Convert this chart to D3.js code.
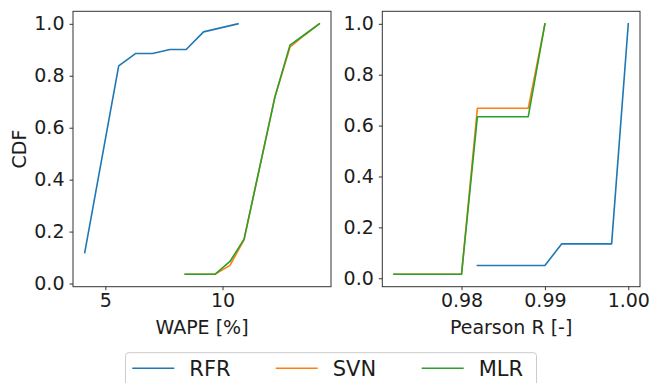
<!DOCTYPE html>
<html>
<head>
<meta charset="utf-8">
<script src="https://cdn.jsdelivr.net/npm/d3@7"></script>
<style>
  html, body { margin: 0; padding: 0; background: #fff; }
  svg { display: block; font-family: "DejaVu Sans", sans-serif; }
</style>
</head>
<body>
<svg id="chart" width="649" height="383"></svg>
<script>
// Series names and colours
const seriesNames = ["RFR", "SVN", "MLR"];
const seriesColors = ["#1f77b4", "#ff7f0e", "#2ca02c"];

// WAPE [%] CDF curves
const wapeRFRx = [4.12, 5.57, 6.30, 7.01, 7.76, 8.45, 9.19, 10.66];
const wapeRFRy = [0.119, 0.838, 0.886, 0.886, 0.901, 0.901, 0.969, 1.0];
const wapeSVNx = [8.41, 9.69, 10.32, 10.92, 12.22, 12.88, 13.48, 14.13];
const wapeSVNy = [0.036, 0.036, 0.070, 0.168, 0.713, 0.910, 0.955, 1.0];
const wapeMLRx = [8.41, 9.69, 10.32, 10.92, 12.24, 12.88, 13.48, 14.13];
const wapeMLRy = [0.036, 0.036, 0.085, 0.171, 0.719, 0.918, 0.957, 1.0];

// Pearson R CDF curves
const pearRFRx = [0.9819, 0.9900, 0.9920, 0.9980, 1.0000];
const pearRFRy = [0.050, 0.050, 0.135, 0.135, 1.0];
const pearSVNx = [0.9719, 0.9800, 0.9819, 0.9880, 0.9900];
const pearSVNy = [0.016, 0.016, 0.668, 0.668, 1.0];
const pearMLRx = [0.9719, 0.9800, 0.9819, 0.9880, 0.9900];
const pearMLRy = [0.016, 0.016, 0.635, 0.635, 1.0];

// Tick values
const wapeTicks = [5, 10];
const pearTicks = [0.98, 0.99, 1.00];
const cdfTicks = [0.0, 0.2, 0.4, 0.6, 0.8, 1.0];

const svg = d3.select("#chart");
const textColor = "#1c1c1c";
const spineColor = "#333";

function zipXY(xs, ys) { return xs.map((x, i) => [x, ys[i]]); }

// Extent with 5% padding on each side
function padded(values) {
  const [lo, hi] = d3.extent(values);
  const m = (hi - lo) * 0.05;
  return [lo - m, hi + m];
}

function panel(opts) {
  const { left, right, top, bottom, series, xTicks, xFormat, xLabel, yLabel } = opts;
  const allX = series.flatMap(s => s.x);
  const allY = series.flatMap(s => s.y);
  const x = d3.scaleLinear().domain(padded(allX)).range([left, right]);
  const y = d3.scaleLinear().domain(padded(allY)).range([bottom, top]);
  const g = svg.append("g");

  const line = d3.line().x(d => x(d[0])).y(d => y(d[1]));
  series.forEach((s, i) => {
    g.append("path")
      .datum(zipXY(s.x, s.y))
      .attr("d", line)
      .attr("fill", "none")
      .attr("stroke", seriesColors[i])
      .attr("stroke-width", 1.6)
      .attr("stroke-linejoin", "round")
      .attr("stroke-linecap", "square");
  });

  // Frame
  g.append("rect")
    .attr("x", left).attr("y", top)
    .attr("width", right - left).attr("height", bottom - top)
    .attr("fill", "none").attr("stroke", spineColor).attr("stroke-width", 1);

  const xAxis = g.append("g")
    .attr("transform", `translate(0,${bottom})`)
    .call(d3.axisBottom(x).tickValues(xTicks).tickFormat(xFormat).tickSizeOuter(0).tickSize(3.5).tickPadding(3.5));
  const yAxis = g.append("g")
    .attr("transform", `translate(${left},0)`)
    .call(d3.axisLeft(y).tickValues(cdfTicks).tickFormat(d3.format(".1f")).tickSizeOuter(0).tickSize(3.5).tickPadding(5));

  [xAxis, yAxis].forEach(a => {
    a.select(".domain").remove();
    a.selectAll(".tick line").attr("stroke", spineColor);
    a.selectAll(".tick text")
      .attr("fill", textColor)
      .style("font-size", "19px")
      .style("font-family", "'DejaVu Sans', sans-serif");
  });

  g.append("text")
    .attr("x", (left + right) / 2)
    .attr("y", 334)
    .attr("text-anchor", "middle")
    .attr("fill", textColor)
    .style("font-size", "19px")
    .text(xLabel);

  if (yLabel) {
    g.append("text")
      .attr("transform", `translate(26,${(top + bottom) / 2}) rotate(-90)`)
      .attr("text-anchor", "middle")
      .attr("fill", textColor)
      .style("font-size", "19px")
      .text(yLabel);
  }
}

panel({
  left: 73, right: 331, top: 11.3, bottom: 286.7,
  series: [
    { x: wapeRFRx, y: wapeRFRy },
    { x: wapeSVNx, y: wapeSVNy },
    { x: wapeMLRx, y: wapeMLRy }
  ],
  xTicks: wapeTicks, xFormat: d3.format("d"),
  xLabel: "WAPE [%]", yLabel: "CDF"
});

panel({
  left: 382.3, right: 640, top: 11.3, bottom: 286.7,
  series: [
    { x: pearRFRx, y: pearRFRy },
    { x: pearSVNx, y: pearSVNy },
    { x: pearMLRx, y: pearMLRy }
  ],
  xTicks: pearTicks, xFormat: d3.format(".2f"),
  xLabel: "Pearson R [-]", yLabel: null
});

// Legend below both panels
const legend = svg.append("g");
legend.append("rect")
  .attr("x", 125.5).attr("y", 352.7)
  .attr("width", 411).attr("height", 50)
  .attr("rx", 3).attr("ry", 3)
  .attr("fill", "#fff").attr("stroke", "#cccccc").attr("stroke-width", 1);

const legendX = [132.3, 275.7, 421.7];
seriesNames.forEach((name, i) => {
  legend.append("line")
    .attr("x1", legendX[i]).attr("x2", legendX[i] + 42)
    .attr("y1", 368.3).attr("y2", 368.3)
    .attr("stroke", seriesColors[i]).attr("stroke-width", 1.6);
  legend.append("text")
    .attr("x", legendX[i] + 57)
    .attr("y", 376)
    .attr("fill", textColor)
    .style("font-size", "21px")
    .text(name);
});
</script>
</body>
</html>
